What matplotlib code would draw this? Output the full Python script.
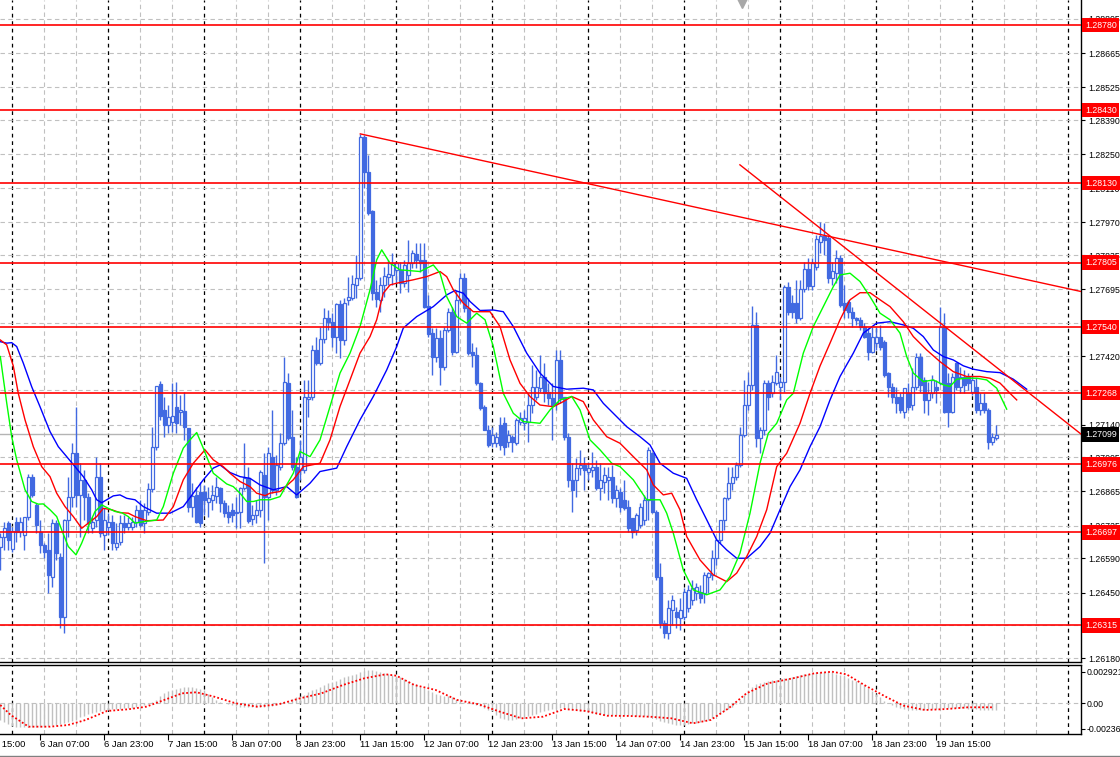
import matplotlib

matplotlib.use('Agg')
from matplotlib import pyplot as plt
from matplotlib.transforms import blended_transform_factory
import numpy as np

plt.rcParams['font.family'] = ['Liberation Sans', 'DejaVu Sans']

# ---- H1 candles, bar 0 = 5 Jan 21:00 ----
opens = [
    1.26638, 1.26679, 1.26737, 1.26630, 1.26741, 1.26700, 1.26687, 1.26761, 1.26925, 1.26810,
    1.26700, 1.26646, 1.26626, 1.26515, 1.26737, 1.26597, 1.26350, 1.26749, 1.26843,
    1.27023, 1.26851, 1.26913, 1.26843, 1.26716, 1.26749, 1.26925, 1.26687, 1.26720, 1.26741,
    1.26638, 1.26659, 1.26737, 1.26720, 1.26720,
    1.26741, 1.26790, 1.26737, 1.26782, 1.26876, 1.27048, 1.27307, 1.27200, 1.27138,
    1.27151, 1.27212, 1.27192, 1.27196, 1.27126, 1.26802, 1.26851, 1.26863, 1.26863,
    1.26823, 1.26831, 1.26847, 1.26880, 1.26819, 1.26782, 1.26790, 1.26778, 1.26782, 1.26880,
    1.26921, 1.26753, 1.26769, 1.26790,
    1.26933, 1.26843, 1.27007, 1.26872, 1.26966, 1.27064, 1.27311, 1.27089, 1.26966, 1.26954,
    1.26954, 1.27245, 1.27254, 1.27447, 1.27393, 1.27492, 1.27578, 1.27562, 1.27500, 1.27636,
    1.27488, 1.27652, 1.27660, 1.27713, 1.27742, 1.28321, 1.28177, 1.28017, 1.27684,
    1.27652, 1.27713, 1.27746, 1.27754,
    1.27775, 1.27775, 1.27721, 1.27754, 1.27803, 1.27840, 1.27816, 1.27816, 1.27627, 1.27517,
    1.27418, 1.27496, 1.27377, 1.27529, 1.27603, 1.27439, 1.27652, 1.27742, 1.27619, 1.27439,
    1.27426, 1.27311, 1.27212, 1.27118, 1.27064, 1.27064, 1.27138, 1.27147, 1.27069, 1.27089,
    1.27064, 1.27151,
    1.27147, 1.27151, 1.27220, 1.27254, 1.27291, 1.27336, 1.27274, 1.27250, 1.27229, 1.27406,
    1.27254, 1.27089, 1.26913, 1.26913, 1.26962, 1.26974, 1.26945, 1.26954, 1.26966, 1.26880,
    1.26904, 1.26913, 1.26925, 1.26839, 1.26863, 1.26831, 1.26802, 1.26757, 1.26707, 1.26728,
    1.26749, 1.26831,
    1.27023, 1.26782, 1.26515, 1.26326, 1.26285, 1.26379, 1.26371, 1.26346, 1.26350, 1.26387,
    1.26420, 1.26449, 1.26453, 1.26449, 1.26515, 1.26523, 1.26593, 1.26667, 1.26749, 1.26839,
    1.26900, 1.26925, 1.26974, 1.27097, 1.27220, 1.27303, 1.27549, 1.27085, 1.27118, 1.27311,
    1.27270, 1.27311, 1.27295, 1.27315, 1.27705, 1.27640, 1.27640, 1.27578, 1.27697, 1.27779,
    1.27709, 1.27787, 1.27890, 1.27914, 1.27906, 1.27742, 1.27762, 1.27824, 1.27640, 1.27644,
    1.27602, 1.27578, 1.27570, 1.27541, 1.27517, 1.27439, 1.27475, 1.27500, 1.27479, 1.27352,
    1.27295, 1.27254, 1.27254, 1.27192, 1.27270, 1.27220, 1.27295, 1.27418, 1.27323, 1.27241,
    1.27270, 1.27295, 1.27311, 1.27541, 1.27311, 1.27192, 1.27393, 1.27295, 1.27336, 1.27336,
    1.27274, 1.27295, 1.27200, 1.27229, 1.27200, 1.27069, 1.27085,
]
highs = [
    1.26696, 1.26741, 1.26745, 1.26720, 1.26761, 1.26761, 1.26761, 1.26937, 1.26937, 1.26819,
    1.26749, 1.26654, 1.26696, 1.26753, 1.26749, 1.26613, 1.26753, 1.26925, 1.27064,
    1.27212, 1.26982, 1.26954, 1.26859, 1.26761, 1.27007, 1.26982, 1.26798, 1.26778, 1.26769,
    1.26737, 1.26769, 1.26769, 1.26761, 1.26761,
    1.26810, 1.26831, 1.26819, 1.26900, 1.27130, 1.27299, 1.27319, 1.27254, 1.27220,
    1.27311, 1.27315, 1.27262, 1.27274, 1.27126, 1.26900, 1.26884, 1.26904, 1.26892,
    1.26884, 1.26892, 1.26925, 1.26884, 1.26831, 1.26810, 1.26819, 1.26843, 1.26884, 1.27064,
    1.26966, 1.26810, 1.26831, 1.26954,
    1.27023, 1.27048, 1.27200, 1.27015, 1.27106, 1.27418, 1.27352, 1.27200, 1.27007, 1.27077,
    1.27324, 1.27324, 1.27467, 1.27500, 1.27541, 1.27619, 1.27611, 1.27599, 1.27640, 1.27652,
    1.27660, 1.27746, 1.27754, 1.27836, 1.28333, 1.28329, 1.28247, 1.28021, 1.27734,
    1.27746, 1.27787, 1.27816, 1.27844,
    1.27807, 1.27807, 1.27816, 1.27898, 1.27857, 1.27885, 1.27885, 1.27885, 1.27672, 1.27537,
    1.27537, 1.27529, 1.27541, 1.27619, 1.27623, 1.27693, 1.27762, 1.27762, 1.27660, 1.27475,
    1.27459, 1.27315, 1.27220, 1.27138, 1.27130, 1.27110, 1.27171, 1.27171, 1.27118, 1.27097,
    1.27167, 1.27192,
    1.27200, 1.27270, 1.27385, 1.27365, 1.27426, 1.27393, 1.27311, 1.27311, 1.27447, 1.27447,
    1.27254, 1.27106, 1.26982, 1.27003, 1.27036, 1.27007, 1.26986, 1.27028, 1.26995, 1.26982,
    1.26966, 1.26966, 1.26974, 1.26892, 1.26880, 1.26913, 1.26831, 1.26757, 1.26778, 1.26819,
    1.26851, 1.27048,
    1.27028, 1.26790, 1.26572, 1.26338, 1.26420, 1.26439, 1.26391, 1.26428, 1.26470, 1.26482,
    1.26502, 1.26490, 1.26482, 1.26535, 1.26535, 1.26626, 1.26675, 1.26749, 1.26843, 1.26966,
    1.26966, 1.26986, 1.27130, 1.27324, 1.27356, 1.27627, 1.27602, 1.27130, 1.27324, 1.27324,
    1.27344, 1.27426, 1.27336, 1.27713, 1.27725, 1.27672, 1.27734, 1.27734, 1.27807, 1.27824,
    1.27824, 1.27918, 1.27972, 1.27968, 1.27918, 1.27807, 1.27857, 1.27836, 1.27713, 1.27652,
    1.27623, 1.27582, 1.27582, 1.27557, 1.27537, 1.27541, 1.27541, 1.27549, 1.27488, 1.27356,
    1.27311, 1.27295, 1.27270, 1.27291, 1.27311, 1.27373, 1.27434, 1.27434, 1.27336, 1.27315,
    1.27344, 1.27324, 1.27623, 1.27599, 1.27352, 1.27352, 1.27397, 1.27377, 1.27365, 1.27352,
    1.27344, 1.27332, 1.27270, 1.27270, 1.27208, 1.27106, 1.27138,
]
lows = [
    1.26544, 1.26626, 1.26626, 1.26618, 1.26659, 1.26679, 1.26626, 1.26749, 1.26843, 1.26696,
    1.26613, 1.26593, 1.26449, 1.26474, 1.26585, 1.26305, 1.26285, 1.26679, 1.26802,
    1.26802, 1.26679, 1.26749, 1.26696, 1.26696, 1.26720, 1.26679, 1.26626, 1.26687, 1.26626,
    1.26626, 1.26646, 1.26696, 1.26707, 1.26707,
    1.26720, 1.26720, 1.26696, 1.26769, 1.26863, 1.27036, 1.27159, 1.27089, 1.27106,
    1.27110, 1.27106, 1.27138, 1.27077, 1.26782, 1.26761, 1.26737, 1.26720, 1.26769,
    1.26761, 1.26790, 1.26819, 1.26782, 1.26761, 1.26737, 1.26741, 1.26716, 1.26716, 1.26872,
    1.26737, 1.26728, 1.26737, 1.26761,
    1.26572, 1.26749, 1.26859, 1.26851, 1.26954, 1.27056, 1.27077, 1.26954, 1.26839, 1.26913,
    1.26941, 1.27171, 1.27241, 1.27385, 1.27385, 1.27475, 1.27529, 1.27459, 1.27434, 1.27414,
    1.27467, 1.27631, 1.27652, 1.27660, 1.27734, 1.28112, 1.28000, 1.27652, 1.27623,
    1.27602, 1.27664, 1.27713, 1.27713,
    1.27721, 1.27680, 1.27705, 1.27684, 1.27783, 1.27783, 1.27766, 1.27619, 1.27500, 1.27344,
    1.27397, 1.27303, 1.27365, 1.27521, 1.27426, 1.27434, 1.27640, 1.27603, 1.27426, 1.27377,
    1.27303, 1.27200, 1.27118, 1.27048, 1.27048, 1.27048, 1.27036, 1.27015, 1.27048, 1.27028,
    1.27056, 1.27138,
    1.27118, 1.27069, 1.27188, 1.27241, 1.27274, 1.27233, 1.27220, 1.27077, 1.27200, 1.27229,
    1.27077, 1.26884, 1.26782, 1.26843, 1.26933, 1.26872, 1.26913, 1.26925, 1.26872, 1.26831,
    1.26859, 1.26831, 1.26819, 1.26802, 1.26782, 1.26790, 1.26700, 1.26675, 1.26687, 1.26716,
    1.26728, 1.26749,
    1.26778, 1.26502, 1.26305, 1.26264, 1.26260, 1.26317, 1.26305, 1.26297, 1.26338, 1.26371,
    1.26399, 1.26420, 1.26408, 1.26408, 1.26449, 1.26502, 1.26564, 1.26654, 1.26707, 1.26831,
    1.26872, 1.26913, 1.26966, 1.27089, 1.27200, 1.27282, 1.27048, 1.27023, 1.27097, 1.27200,
    1.27254, 1.27303, 1.27241, 1.27274, 1.27590, 1.27578, 1.27557, 1.27570, 1.27684, 1.27693,
    1.27693, 1.27775, 1.27844, 1.27836, 1.27721, 1.27713, 1.27721, 1.27623, 1.27578, 1.27578,
    1.27541, 1.27549, 1.27529, 1.27496, 1.27406, 1.27434, 1.27447, 1.27447, 1.27336, 1.27254,
    1.27229, 1.27188, 1.27188, 1.27167, 1.27200, 1.27200, 1.27282, 1.27274, 1.27188, 1.27179,
    1.27250, 1.27229, 1.27303, 1.27188, 1.27130, 1.27188, 1.27282, 1.27270, 1.27270, 1.27282,
    1.27262, 1.27188, 1.27179, 1.27188, 1.27040, 1.27056, 1.27077,
]
closes = [
    1.26679, 1.26716, 1.26667, 1.26704, 1.26700, 1.26741, 1.26761, 1.26925, 1.26851, 1.26728,
    1.26646, 1.26618, 1.26523, 1.26737, 1.26613, 1.26350, 1.26749, 1.26843, 1.27023,
    1.26851, 1.26913, 1.26843, 1.26737, 1.26741, 1.26925, 1.26696, 1.26749, 1.26741, 1.26654,
    1.26654, 1.26737, 1.26720, 1.26737, 1.26741,
    1.26790, 1.26728, 1.26790, 1.26876, 1.27048, 1.27299, 1.27175, 1.27138, 1.27171,
    1.27175, 1.27147, 1.27200, 1.27130, 1.26802, 1.26847, 1.26741, 1.26737, 1.26831,
    1.26839, 1.26851, 1.26884, 1.26819, 1.26778, 1.26761, 1.26769, 1.26782, 1.26880, 1.26921,
    1.26745, 1.26769, 1.26790, 1.26945,
    1.26843, 1.27023, 1.26872, 1.26974, 1.27064, 1.27315, 1.27085, 1.26966, 1.26843, 1.27007,
    1.27254, 1.27254, 1.27447, 1.27393, 1.27492, 1.27578, 1.27562, 1.27500, 1.27636, 1.27488,
    1.27640, 1.27664, 1.27717, 1.27742, 1.28321, 1.28177, 1.28009, 1.27680, 1.27656,
    1.27713, 1.27750, 1.27758, 1.27803,
    1.27803, 1.27721, 1.27795, 1.27803, 1.27844, 1.27816, 1.27803, 1.27623, 1.27512, 1.27418,
    1.27496, 1.27377, 1.27529, 1.27603, 1.27439, 1.27652, 1.27742, 1.27619, 1.27434, 1.27426,
    1.27311, 1.27208, 1.27118, 1.27056, 1.27097, 1.27089, 1.27056, 1.27048, 1.27097, 1.27069,
    1.27159, 1.27167,
    1.27167, 1.27220, 1.27295, 1.27295, 1.27336, 1.27270, 1.27250, 1.27220, 1.27406, 1.27250,
    1.27089, 1.26913, 1.26872, 1.26962, 1.26974, 1.26954, 1.26962, 1.26966, 1.26880, 1.26913,
    1.26933, 1.26925, 1.26839, 1.26872, 1.26802, 1.26798, 1.26716, 1.26700, 1.26769, 1.26802,
    1.26831, 1.27036,
    1.26782, 1.26515, 1.26326, 1.26285, 1.26387, 1.26420, 1.26350, 1.26379, 1.26453, 1.26461,
    1.26470, 1.26474, 1.26428, 1.26523, 1.26531, 1.26593, 1.26667, 1.26749, 1.26839, 1.26900,
    1.26925, 1.26974, 1.27097, 1.27220, 1.27303, 1.27549, 1.27085, 1.27118, 1.27311, 1.27254,
    1.27315, 1.27356, 1.27315, 1.27705, 1.27602, 1.27602, 1.27578, 1.27697, 1.27779, 1.27709,
    1.27803, 1.27902, 1.27914, 1.27898, 1.27742, 1.27771, 1.27824, 1.27631, 1.27611, 1.27602,
    1.27578, 1.27570, 1.27541, 1.27500, 1.27439, 1.27500, 1.27500, 1.27459, 1.27344, 1.27295,
    1.27254, 1.27229, 1.27200, 1.27291, 1.27212, 1.27295, 1.27418, 1.27303, 1.27241, 1.27270,
    1.27323, 1.27282, 1.27541, 1.27192, 1.27192, 1.27336, 1.27295, 1.27336, 1.27303, 1.27311,
    1.27323, 1.27200, 1.27229, 1.27200, 1.27069, 1.27089, 1.27097,
]

# ---- Alligator lines (bar position, price) ----
lips_bar = [0, 1.6, 2.85, 4.1, 6.18, 7.85, 9.5, 10.75, 12.43, 14.1, 15.35, 17.0, 18.93, 20.35, 22.0,
            23.68, 25.35, 27.0, 28.68, 30.35, 32.0, 33.68, 35.75, 39.1, 40.75, 43.25, 45.75, 47.43, 49.1,
            50.75, 53.25, 56.6, 58.25, 59.93, 61.6, 63.25, 64.93, 67.43, 69.93, 73.25, 74.93, 77.43,
            79.93, 82.43, 84.93, 87.43, 89.93, 92.43, 94.1, 95.35, 97.43, 99.93, 104.93, 108.25, 109.93,
            111.6, 114.1, 116.6, 119.1, 121.18, 123.25, 125.75, 128.25, 130.75, 134.93, 137.43, 139.93,
            142.85, 144.93, 147.43, 149.93, 152.85, 154.93, 158.25, 161.6, 164.93, 166.6, 168.25, 170.75,
            173.25, 176.6, 179.93, 182.43, 184.93, 187.43, 189.93, 192.0, 194.1, 196.6, 198.25, 200.75,
            203.25, 205.75, 208.25, 209.93, 212.43, 214.93, 217.43, 219.93, 222.43, 224.93, 226.6,
            228.25, 230.75, 233.25, 235.75, 237.43, 239.1, 241.6, 244.1, 246.6, 249.1, 251.6]
lips_val = [1.27419, 1.27229, 1.27090, 1.26995, 1.26872, 1.26824, 1.26813, 1.26814, 1.26790, 1.26762,
            1.26707, 1.26639, 1.26605, 1.26653, 1.26721, 1.26783, 1.26810, 1.26796, 1.26783, 1.26778,
            1.26762, 1.26735, 1.26741, 1.26748, 1.26803, 1.26940, 1.27043, 1.27077, 1.27107, 1.27043,
            1.26940, 1.26896, 1.26885, 1.26858, 1.26824, 1.26824, 1.26831, 1.26831, 1.26844, 1.26940,
            1.27029, 1.27008, 1.27077, 1.27214, 1.27351, 1.27433, 1.27542, 1.27693, 1.27816, 1.27857,
            1.27802, 1.27775, 1.27768, 1.27795, 1.27761, 1.27665, 1.27583, 1.27556, 1.27597, 1.27570,
            1.27460, 1.27268, 1.27186, 1.27152, 1.27145, 1.27200, 1.27241, 1.27255, 1.27200, 1.27077,
            1.27036, 1.26981, 1.26967, 1.26913, 1.26831, 1.26831, 1.26776, 1.26694, 1.26543, 1.26461,
            1.26441, 1.26461, 1.26516, 1.26612, 1.26776, 1.26981, 1.27104, 1.27145, 1.27241, 1.27268,
            1.27433, 1.27542, 1.27624, 1.27706, 1.27754, 1.27761, 1.27727, 1.27665, 1.27597, 1.27570,
            1.27515, 1.27419, 1.27351, 1.27316, 1.27323, 1.27303, 1.27296, 1.27326, 1.27330, 1.27330,
            1.27323, 1.27289, 1.27203]

teeth_bar = [0, 1.6, 3.25, 4.5, 6.18, 8.25, 10.35, 12.43, 14.1, 16.18, 18.25, 20.35, 22.0, 24.1, 25.75,
             27.85, 29.93, 32.0, 33.68, 36.6, 40.75, 43.25, 45.75, 48.25, 51.18, 53.25, 55.75, 57.43,
             59.93, 62.43, 64.1, 66.18, 67.43, 69.93, 73.25, 75.75, 79.93, 82.43, 84.93, 87.43, 89.93,
             92.43, 94.1, 95.75, 97.43, 99.1, 103.25, 106.6, 109.93, 111.6, 113.25, 115.75, 118.25,
             120.35, 122.43, 124.93, 127.43, 129.93, 132.43, 134.93, 138.25, 140.75, 142.85, 145.75,
             148.25, 151.6, 154.93, 158.25, 161.6, 163.25, 165.75, 167.85, 169.93, 171.6, 174.93, 178.25,
             181.6, 184.1, 186.6, 189.1, 191.6, 194.1, 196.6, 199.93, 202.43, 204.93, 207.43, 209.93,
             212.43, 214.93, 217.43, 219.93, 222.43, 225.75, 228.25, 231.6, 234.93, 238.25, 241.6,
             244.93, 247.43, 249.93, 252.43, 254.1]
teeth_val = [1.27487, 1.27467, 1.27380, 1.27268, 1.27159, 1.27049, 1.26967, 1.26926, 1.26858, 1.26803,
             1.26762, 1.26714, 1.26735, 1.26762, 1.26796, 1.26790, 1.26778, 1.26776, 1.26762, 1.26745,
             1.26748, 1.26803, 1.26913, 1.26981, 1.27036, 1.26995, 1.26967, 1.26940, 1.26906, 1.26885,
             1.26858, 1.26848, 1.26858, 1.26865, 1.26913, 1.26967, 1.26981, 1.27077, 1.27214, 1.27323,
             1.27433, 1.27501, 1.27570, 1.27679, 1.27713, 1.27720, 1.27734, 1.27747, 1.27768, 1.27747,
             1.27693, 1.27638, 1.27603, 1.27603, 1.27603, 1.27542, 1.27405, 1.27309, 1.27255, 1.27220,
             1.27213, 1.27234, 1.27255, 1.27234, 1.27159, 1.27090, 1.27063, 1.27008, 1.26954, 1.26892,
             1.26851, 1.26858, 1.26790, 1.26680, 1.26584, 1.26523, 1.26495, 1.26530, 1.26598, 1.26680,
             1.26790, 1.26967, 1.27022, 1.27145, 1.27268, 1.27380, 1.27474, 1.27570, 1.27652, 1.27681,
             1.27681, 1.27652, 1.27624, 1.27562, 1.27501, 1.27446, 1.27398, 1.27357, 1.27337, 1.27337,
             1.27330, 1.27310, 1.27268, 1.27241]

jaw_bar = [0, 1.6, 2.85, 4.1, 5.75, 7.85, 9.93, 12.43, 14.5, 16.6, 18.68, 20.75, 22.85, 24.1, 25.35,
           26.6, 28.25, 29.93, 31.6, 33.68, 35.75, 39.1, 42.43, 45.75, 48.25, 50.75, 53.25, 54.93, 57.43,
           59.93, 62.43, 64.93, 68.25, 71.6, 74.1, 77.43, 79.93, 84.1, 86.6, 89.93, 93.25, 96.6, 99.1,
           100.75, 104.1, 108.25, 111.6, 113.68, 115.75, 117.43, 119.93, 123.25, 125.75, 128.25, 131.6,
           134.93, 138.25, 141.6, 145.75, 148.25, 150.75, 153.25, 156.6, 159.93, 162.43, 164.93, 168.25,
           171.6, 174.1, 176.6, 179.1, 181.6, 184.1, 186.6, 189.93, 192.43, 194.93, 197.43, 199.93,
           202.43, 204.93, 207.43, 209.93, 213.25, 215.75, 219.1, 222.43, 225.75, 228.25, 230.75, 233.25,
           235.75, 238.25, 240.75, 243.25, 246.6, 249.93, 253.25, 256.6]
jaw_val = [1.27480, 1.27474, 1.27476, 1.27460, 1.27392, 1.27295, 1.27213, 1.27111, 1.27049, 1.27008,
           1.26967, 1.26926, 1.26872, 1.26831, 1.26819, 1.26831, 1.26847, 1.26851, 1.26837, 1.26831,
           1.26803, 1.26776, 1.26776, 1.26803, 1.26858, 1.26913, 1.26961, 1.26974, 1.26943, 1.26926,
           1.26919, 1.26892, 1.26872, 1.26885, 1.26851, 1.26899, 1.26947, 1.26961, 1.27049, 1.27159,
           1.27255, 1.27364, 1.27460, 1.27536, 1.27583, 1.27624, 1.27672, 1.27690, 1.27679, 1.27645,
           1.27608, 1.27610, 1.27603, 1.27542, 1.27433, 1.27351, 1.27296, 1.27285, 1.27289, 1.27282,
           1.27227, 1.27186, 1.27131, 1.27090, 1.27056, 1.26981, 1.26940, 1.26919, 1.26831, 1.26749,
           1.26666, 1.26625, 1.26591, 1.26591, 1.26639, 1.26694, 1.26790, 1.26885, 1.26954, 1.27049,
           1.27131, 1.27241, 1.27337, 1.27433, 1.27515, 1.27556, 1.27562, 1.27549, 1.27535, 1.27501,
           1.27446, 1.27419, 1.27405, 1.27381, 1.27367, 1.27357, 1.27353, 1.27326, 1.27285]

# ---- MACD window, values in units of 1e-4 ----
macd_main = [
    -15, -17, -19.5, -21, -21.6, -22, -22, -22, -22, -22,
    -21.5, -21.5, -21, -20.5, -20, -19.5, -18.5, -17.5, -16.5, -15,
    -13, -11.5, -10, -9, -8, -7, -6.5, -6, -5.5, -5,
    -5, -4.5, -4.5, -4, -3.5, -2.5, -1.5, -0.5, 1, 3.5,
    6.5, 9.2, 11, 12.5, 13.5, 14.5, 15, 15.3, 15.3, 14.5,
    13.5, 12, 9, 6, 3.5, 1.5, 0, -1, -2, -2.5,
    -3, -3, -3, -3, -3, -3, -3, -3, -2.5, -2,
    -1, 1, 2.5, 4, 5.5, 6.5, 8, 10, 12, 13.5,
    15, 16.5, 18.5, 19.5, 21, 22.5, 24, 25, 26.5, 27.5,
    29, 30, 30.8, 30.5, 29.5, 29, 28, 27, 26.2, 25,
    24, 22.5, 21, 19, 17.5, 15.5, 14, 12.5, 10.5, 9,
    8, 7, 6.5, 5.5, 4, 2.5, 1.5, 0.5, -0.5, -1.5,
    -2.5, -4.5, -6, -7.5, -10.5, -13.5, -14.5, -15, -15.4, -14.5,
    -13.5, -12.5, -11.5, -10.5, -9.5, -8.5, -7.5, -6.5, -5.5, -5,
    -4.5, -4.5, -5, -5.5, -6.5, -7, -7.5, -8, -9, -9.5,
    -10, -10.5, -10.8, -10.8, -10.8, -10.8, -10.8, -10.8, -11, -11.5,
    -11.8, -12, -12.3, -13, -14.5, -16, -17, -18, -19, -19.8,
    -20, -19.8, -19.2, -18.5, -17.8, -17, -16, -15, -13.5, -11.5,
    -9.5, -7.5, -5.5, -3.5, -1, 3, 8, 12, 15.5, 18,
    19, 20, 21, 21.5, 22, 22.5, 23, 23.5, 24.5, 25.5,
    26.2, 27, 27.5, 28.3, 28.8, 29, 29.2, 29.2, 28.5, 27.5,
    26.2, 25, 23.5, 22, 20.5, 18.5, 16.5, 14, 11.5, 8.5,
    5.5, 2.5, 0, -2, -3.5, -4.6, -5, -5.5, -6, -6.2,
    -6.2, -6, -5.5, -5, -5, -4.8, -4.6, -4.6, -4.6, -4.6,
    -4.6, -4.6, -5, -5.3, -5.6, -6, -6.2, -6.2, -6.2, -6.2,
]
signal_bar = [0, 2.6, 7.08, 12.43, 16.9, 21.35, 26.68, 32.08, 36.53, 41.0, 45.43, 49.03, 53.5, 58.85,
              64.18, 69.58, 74.93, 80.28, 85.65, 91.0, 96.35, 99.03, 103.5, 108.85, 114.18, 119.58,
              124.93, 130.28, 135.65, 141.0, 146.35, 151.68, 157.08, 162.43, 167.78, 173.15, 177.6,
              182.08, 186.53, 191.9, 198.15, 203.5, 207.93, 211.53, 216.0, 221.35, 225.83, 231.18,
              236.53, 241.9, 248.15]
signal_val = [-1.6, -10.8, -21.6, -21.6, -20.1, -15.4, -7.1, -5.5, -3.1, 3.1, 9.2, 10.2, 6.1, 0, -3.1,
              -0.9, 4.6, 9.2, 16.9, 23.1, 26.8, 25.5, 16.9, 12.3, 3.1, -0.9, -7.8, -13.9, -12.4, -5.3,
              -7.1, -11.5, -11.7, -12.4, -13.9, -18.5, -15.4, -4.6, 9.2, 18.5, 23.1, 27.7, 29.2, 26.8,
              16.9, 6.1, -2.2, -6.2, -5.3, -3.7, -3.7]

# ---- levels, trend lines, axis text ----
levels = [1.28780, 1.28430, 1.28130, 1.27805, 1.27540, 1.27268, 1.26976, 1.26697, 1.26315]
last_price = 1.27099
price_ticks = [1.28805, 1.28665, 1.28525, 1.28390, 1.28250, 1.28110, 1.27970, 1.27835, 1.27695,
               1.27555, 1.27420, 1.27280, 1.27140, 1.27005, 1.26865, 1.26725, 1.26590, 1.26450,
               1.26315, 1.26180]
# scale labels that the level tags cover completely on the screenshot
covered_ticks = [1.27555, 1.27280, 1.26315]
macd_ticks = [0.002921, 0.0, -0.00236]
macd_tick_labels = ['0.002921', '0.00', '-0.00236']
trend_a = [(90, 1.28333), (162.4, 1.28073)]
trend_b = [(184.9, 1.28206), (259.9, 1.27234)]
time_labels = ['5 Jan 15:00', '6 Jan 07:00', '6 Jan 23:00', '7 Jan 15:00', '8 Jan 07:00',
               '8 Jan 23:00', '11 Jan 15:00', '12 Jan 07:00', '12 Jan 23:00', '13 Jan 15:00',
               '14 Jan 07:00', '14 Jan 23:00', '15 Jan 15:00', '18 Jan 07:00', '18 Jan 23:00',
               '19 Jan 15:00']
first_label_bar = -6
bars_per_label = 16
first_midnight_bar = 3

# ---- geometry (pixels of the 1120x757 canvas) ----
W, H = 1120, 757
PLOT_R = 1081
MAIN_BOTTOM = 662
SUB_TOP, SUB_BOTTOM = 665, 734
BAR_PX = 4.0
BAR0_PX = 0.3
PX_PER_PRICE = 24360.0
PX_PER_MACD = 10818.0
MACD_ZERO_PX = 703.3
FS = 6.3

CANDLE = '#4169e1'
GRID = '#c0c0c0'

fig = plt.figure(figsize=(W / 100, H / 100), dpi=100)
fig.patch.set_facecolor('white')
ax = fig.add_axes([0, (H - MAIN_BOTTOM) / H, PLOT_R / W, MAIN_BOTTOM / H])
axm = fig.add_axes([0, (H - SUB_BOTTOM) / H, PLOT_R / W, (SUB_BOTTOM - SUB_TOP) / H])

x_lo = -BAR0_PX / BAR_PX
x_hi = (PLOT_R - BAR0_PX) / BAR_PX
ref_level = levels[0]
ax.set_xlim(x_lo, x_hi)
ax.set_ylim(ref_level - (MAIN_BOTTOM - 25) / PX_PER_PRICE, ref_level + 25 / PX_PER_PRICE)
axm.set_xlim(x_lo, x_hi)
axm.set_ylim(-(SUB_BOTTOM - MACD_ZERO_PX) / PX_PER_MACD, (MACD_ZERO_PX - SUB_TOP) / PX_PER_MACD)

# grid: grey dashed every 8 bars, black dashed day separators
for a in (ax, axm):
    g = first_midnight_bar
    k = 0
    while g < x_hi:
        if k % 3 == 0:
            a.axvline(g, color='black', lw=0.9, ls=(0, (3, 3)), zorder=1)
        else:
            a.axvline(g, color=GRID, lw=0.8, ls=(0, (4, 3)), zorder=1)
        g += 8
        k += 1
for t in price_ticks:
    ax.axhline(t, color=GRID, lw=0.8, ls=(0, (4, 3)), zorder=1)
axm.axhline(0, color=GRID, lw=0.8, ls=(0, (4, 3)), zorder=1)

# current price line
ax.axhline(last_price, color='#b4b4b4', lw=1.0, zorder=2)

# candles
n = len(closes)
xs = np.arange(n)
o = np.array(opens)
c = np.array(closes)
ax.vlines(xs, lows, highs, color=CANDLE, lw=1.0, zorder=3)
bull = c >= o
ax.bar(xs[bull], np.maximum(c - o, 1e-6)[bull], bottom=o[bull], width=0.62,
       facecolor='white', edgecolor=CANDLE, linewidth=0.9, zorder=4)
ax.bar(xs[~bull], (o - c)[~bull], bottom=c[~bull], width=0.62,
       facecolor=CANDLE, edgecolor=CANDLE, linewidth=0.9, zorder=4)

# alligator
ax.plot(jaw_bar, jaw_val, color='#0000ff', lw=1.0, zorder=5)
ax.plot(teeth_bar, teeth_val, color='#ff0000', lw=1.0, zorder=5)
ax.plot(lips_bar, lips_val, color='#00ff00', lw=1.0, zorder=5)

# horizontal levels
for lv in levels:
    ax.axhline(lv, color='#ff0000', lw=1.2, zorder=6)

# trend lines (rays to the right)
for (x1, y1), (x2, y2) in (trend_a, trend_b):
    slope = (y2 - y1) / (x2 - x1)
    ax.plot([x1, x_hi], [y1, y1 + slope * (x_hi - x1)], color='#ff0000', lw=1.0, zorder=6)

# chart shift marker
ax.plot([742 / PLOT_R], [1 - 3 / MAIN_BOTTOM], marker='v', ms=7, color='#a8a8a8',
        transform=ax.transAxes, clip_on=False, zorder=7)

# MACD
scale = 1e-4
axm.vlines(np.arange(len(macd_main)), 0, np.array(macd_main) * scale, color=GRID, lw=1.0, zorder=2)
axm.plot(signal_bar, np.array(signal_val) * scale, color='#ff0000', lw=1.3,
         ls=(0, (1, 1.2)), zorder=3)

# spines
for a in (ax, axm):
    for s in a.spines.values():
        s.set_visible(False)
    a.spines['right'].set_visible(True)
    a.spines['bottom'].set_visible(True)
    a.spines['right'].set_linewidth(1.0)
    a.spines['bottom'].set_linewidth(1.0)
axm.spines['top'].set_visible(True)
axm.spines['top'].set_linewidth(1.0)

# right price scale
ax.yaxis.tick_right()
ax.set_yticks(price_ticks)
ax.set_yticklabels(['' if t in covered_ticks else f'{t:.5f}' for t in price_ticks])
ax.tick_params(axis='y', length=3, width=0.8, pad=2, labelsize=FS, colors='black')
ax.set_xticks([])

axm.yaxis.tick_right()
axm.set_yticks(macd_ticks)
axm.set_yticklabels(macd_tick_labels)
axm.tick_params(axis='y', length=3, width=0.8, pad=1, labelsize=FS)

# level tags and price tag
tag_tr = blended_transform_factory(ax.transAxes, ax.transData)
for lv in levels:
    ax.text(1 + 4 / PLOT_R, lv, f'{lv:.5f}', transform=tag_tr, ha='left', va='center',
            fontsize=FS, color='white', zorder=10, clip_on=False,
            bbox=dict(boxstyle='square,pad=0.3', fc='#ff0000', ec='none'))
ax.text(1 + 4 / PLOT_R, last_price, f'{last_price:.5f}', transform=tag_tr, ha='left', va='center',
        fontsize=FS, color='white', zorder=10, clip_on=False,
        bbox=dict(boxstyle='square,pad=0.3', fc='black', ec='none'))

# time axis
label_bars = [first_label_bar + bars_per_label * k for k in range(len(time_labels))]
axm.set_xticks([b for b in label_bars if b >= x_lo])
axm.set_xticklabels([])
axm.tick_params(axis='x', length=4, width=0.8, direction='out')
time_tr = blended_transform_factory(axm.transData, axm.transAxes)
for b, lab in zip(label_bars, time_labels):
    axm.text(b, -0.09, lab, transform=time_tr, ha='left', va='top', fontsize=6.8,
             clip_on=False)

fig.add_artist(plt.Line2D([0, 1], [1.5 / H, 1.5 / H], color='#808080', lw=1.0,
                          transform=fig.transFigure))

fig.savefig('out.png', dpi=100, facecolor='white')
